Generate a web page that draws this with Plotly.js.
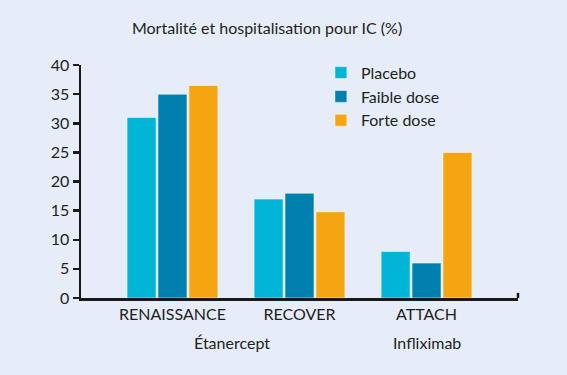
<!DOCTYPE html>
<html>
<head>
<meta charset="utf-8">
<script src="https://cdn.plot.ly/plotly-3.0.1.min.js"></script>
<style>html,body{margin:0;padding:0;background:#e6edf8;}#chart{width:567px;height:375px;}</style>
</head>
<body>
<div id="chart"></div>
<script>
var categories = ["RENAISSANCE", "RECOVER", "ATTACH"];
var placebo = [31, 17, 8];
var faibleDose = [35, 18, 6];
var forteDose = [36.5, 14.8, 25];
var seriesNames = ["Placebo", "Faible dose", "Forte dose"];
var groupLabels = ["Étanercept", "Infliximab"];
var groupPositions = [0.47, 2];
var yTicks = [0, 5, 10, 15, 20, 25, 30, 35, 40];

var colors = ["#00b5d6", "#0080ae", "#f6a512"];
var seriesValues = [placebo, faibleDose, forteDose];
var FONT = "Lato, 'Open Sans', sans-serif";

var traces = seriesValues.map(function (vals, i) {
  return {
    type: "bar",
    name: seriesNames[i],
    x: categories,
    y: vals,
    marker: {color: colors[i], line: {color: "rgba(255,255,255,0.55)", width: 1}},
    hoverinfo: "skip"
  };
});

var annotations = groupLabels.map(function (t, i) {
  return {
    text: t, x: groupPositions[i], xref: "x", y: -0.19, yref: "paper",
    showarrow: false, xanchor: "center", yanchor: "middle",
    font: {family: FONT, size: 16, color: "#231f20"}
  };
});

var layout = {
  width: 567, height: 375,
  paper_bgcolor: "#e6edf8", plot_bgcolor: "#e6edf8",
  margin: {l: 81, r: 49, t: 65, b: 77},
  font: {family: FONT, size: 16, color: "#231f20"},
  title: {text: "Mortalité et hospitalisation pour IC (%)", x: 0.471, xanchor: "center", y: 0.923, yanchor: "middle",
          font: {family: FONT, size: 16, color: "#231f20"}},
  barmode: "group", bargap: 0.27, bargroupgap: 0.06,
  showlegend: true,
  legend: {x: 0.549, xanchor: "left", y: 1.04, yanchor: "top", bgcolor: "rgba(0,0,0,0)",
           font: {family: FONT, size: 16, color: "#231f20"}, tracegroupgap: 0, itemwidth: 30},
  xaxis: {
    type: "category", range: [-0.72, 2.72], showline: true, linecolor: "#1a1a1a", linewidth: 2.5,
    ticks: "", showgrid: false, zeroline: false, fixedrange: true,
    tickfont: {family: FONT, size: 16, color: "#231f20"}
  },
  yaxis: {
    range: [0, 40], tickvals: yTicks, showline: true, linecolor: "#1a1a1a", linewidth: 2.5,
    ticks: "outside", ticklen: 6, tickwidth: 2.5, tickcolor: "#1a1a1a",
    showgrid: false, zeroline: false, fixedrange: true,
    tickfont: {family: FONT, size: 16, color: "#231f20"}
  },
  shapes: [{type: "line", xref: "paper", yref: "paper", x0: 1, x1: 1, y0: 0, y1: 0.022,
            line: {color: "#1a1a1a", width: 2.5}}],
  annotations: annotations
};

Plotly.newPlot("chart", traces, layout, {displayModeBar: false, staticPlot: true});
</script>
</body>
</html>
